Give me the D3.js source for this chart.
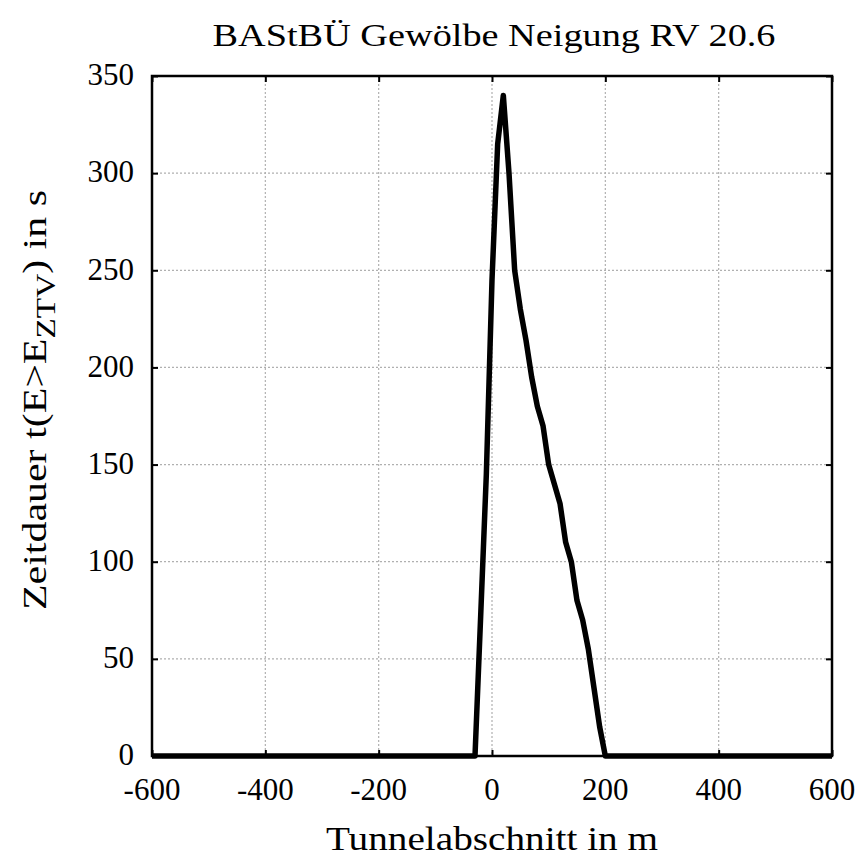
<!DOCTYPE html>
<html><head><meta charset="utf-8">
<script src="https://cdn.jsdelivr.net/npm/d3@7"></script>
<style>body{margin:0;background:#fff}svg{display:block}text{font-family:"Liberation Serif",serif}</style>
</head><body>
<script>
const xPos = [-600,-30,-20,-10,0,10,20,30,40,50,60,70,80,90,100,110,120,130,140,150,160,170,180,190,200,600];
const yVal = [0,0,72,145,245,315,340,300,250,230,214,195,180,170,150,140,130,110,100,80,70,55,35,15,0,0];
const xTicks = [-600,-400,-200,0,200,400,600];
const yTicks = [0,50,100,150,200,250,300,350];
const titleText = "BAStBÜ Gewölbe Neigung RV 20.6";
const xLabel = "Tunnelabschnitt in m";

const W=864,H=860, L=152,R=832,T=76,B=756;
const svg = d3.select("body").append("svg").attr("width",W).attr("height",H);
const x = d3.scaleLinear().domain([-600,600]).range([L,R]);
const y = d3.scaleLinear().domain([0,350]).range([B,T]);

// grid
svg.append("g").selectAll("line").data(xTicks.slice(1,-1)).join("line")
  .attr("x1",d=>x(d)).attr("x2",d=>x(d)).attr("y1",T).attr("y2",B)
  .attr("stroke","#b0b0b0").attr("stroke-width",1.2).attr("stroke-dasharray","2,2");
svg.append("g").selectAll("line").data(yTicks.slice(1,-1)).join("line")
  .attr("y1",d=>y(d)).attr("y2",d=>y(d)).attr("x1",L).attr("x2",R)
  .attr("stroke","#b0b0b0").attr("stroke-width",1.2).attr("stroke-dasharray","2,2");

// axes with inward ticks
const ax = (g,axis)=>{g.call(axis); g.select(".domain").remove(); g.selectAll("line").attr("stroke","#000").attr("stroke-width",2);};
svg.append("g").attr("transform",`translate(0,${B})`).call(g=>ax(g,d3.axisBottom(x).tickValues(xTicks).tickSize(-6).tickFormat("")));
svg.append("g").attr("transform",`translate(0,${T})`).call(g=>ax(g,d3.axisTop(x).tickValues(xTicks).tickSize(-6).tickFormat("")));
svg.append("g").attr("transform",`translate(${L},0)`).call(g=>ax(g,d3.axisLeft(y).tickValues(yTicks).tickSize(-6).tickFormat("")));
svg.append("g").attr("transform",`translate(${R},0)`).call(g=>ax(g,d3.axisRight(y).tickValues(yTicks).tickSize(-6).tickFormat("")));

svg.append("rect").attr("x",L).attr("y",T).attr("width",R-L).attr("height",B-T)
  .attr("fill","none").attr("stroke","#000").attr("stroke-width",2.5);

// tick labels
svg.append("g").selectAll("text").data(xTicks).join("text")
  .attr("x",d=>x(d)).attr("y",800).attr("text-anchor","middle")
  .attr("font-size",31).text(d=>d);
svg.append("g").selectAll("text").data(yTicks).join("text")
  .attr("x",134).attr("y",d=>y(d)).attr("dy","0.3em").attr("text-anchor","end")
  .attr("font-size",31).text(d=>d);

// data line
const line = d3.line().x((d,i)=>x(xPos[i])).y((d,i)=>y(yVal[i]));
svg.append("path").datum(yVal).attr("d",line).attr("fill","none")
  .attr("stroke","#000").attr("stroke-width",5.5).attr("stroke-linejoin","round");

// title & labels
svg.append("text").attr("x",494).attr("y",46).attr("text-anchor","middle")
  .attr("font-size",31)
  .attr("textLength",563).attr("lengthAdjust","spacingAndGlyphs").text(titleText);
svg.append("text").attr("x",492).attr("y",850).attr("text-anchor","middle")
  .attr("font-size",33)
  .attr("textLength",332).attr("lengthAdjust","spacingAndGlyphs").text(xLabel);
const yl = svg.append("text").attr("transform","translate(46,400) rotate(-90)")
  .attr("text-anchor","middle").attr("font-size",34)
  .attr("textLength",420).attr("lengthAdjust","spacingAndGlyphs");
yl.append("tspan").text("Zeitdauer t(E>E");
yl.append("tspan").attr("font-size",27).attr("dy",9).text("ZTV");
yl.append("tspan").attr("dy",-9).text(") in s");
</script>
</body></html>
